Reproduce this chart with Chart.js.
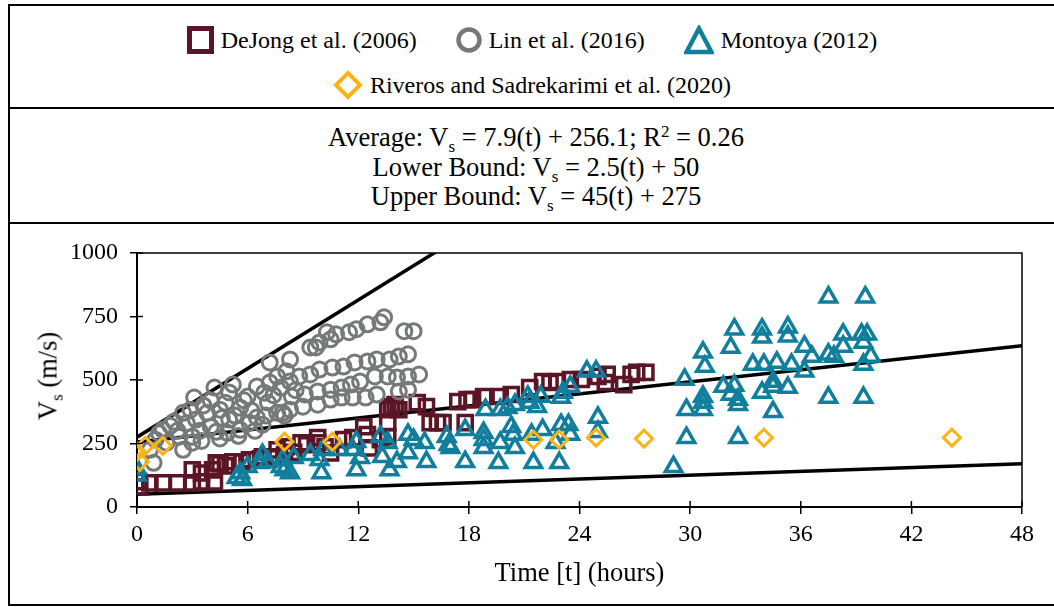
<!DOCTYPE html>
<html>
<head>
<meta charset="utf-8">
<script src="https://cdn.jsdelivr.net/npm/chart.js@4.4.1/dist/chart.umd.min.js"></script>
<style>
  body { margin: 0; background: #fff; font-family: "Liberation Serif", "Times New Roman", serif; color: #000; }
  #page { position: relative; width: 1054px; height: 607px; overflow: hidden; }
  .frame { position: absolute; left: 8px; top: 4px; width: 1060px; height: 602px; border: 2px solid #000; box-sizing: border-box; }
  .sep { position: absolute; left: 8px; width: 1060px; height: 2px; background: #000; }
  .legend-row { position: absolute; left: 10px; width: 1044px; height: 34px; display: flex; justify-content: center; align-items: center; font-size: 24px; }
  .legend-item { display: flex; align-items: center; margin: 0 19.5px; }
  .legend-item svg { margin-right: 7px; }
  .eq { position: absolute; left: 10px; width: 1052px; top: 123px; text-align: center; font-size: 26.5px; line-height: 29.5px; }
  sub { font-size: 17px; vertical-align: -6px; line-height: 0; }
  sup { font-size: 17px; vertical-align: 9px; line-height: 0; }
  #chartBox { position: absolute; left: 10px; top: 224px; width: 1044px; height: 380px; }
  .ytitle { position: absolute; left: 48px; top: 376px; transform: translate(-50%, -50%) rotate(-90deg); font-size: 26.5px; white-space: nowrap; }
</style>
</head>
<body>
<div id="page">
  <div class="frame"></div>
  <div class="sep" style="top:107px"></div>
  <div class="sep" style="top:222px"></div>

  <div class="legend-row" style="top:23px">
    <div class="legend-item">
      <svg width="27" height="28"><rect x="2.5" y="2.5" width="22" height="23" fill="none" stroke="#5b1526" stroke-width="5"/></svg>
      <span>DeJong et al. (2006)</span>
    </div>
    <div class="legend-item">
      <svg width="26" height="26"><circle cx="13" cy="13" r="10.5" fill="none" stroke="#76787a" stroke-width="4.5"/></svg>
      <span>Lin et al. (2016)</span>
    </div>
    <div class="legend-item">
      <svg width="30" height="30"><polygon points="15,3.5 27.5,27 2.5,27" fill="none" stroke="#127e9d" stroke-width="4.5"/></svg>
      <span>Montoya (2012)</span>
    </div>
  </div>
  <div class="legend-row" style="top:68px">
    <div class="legend-item">
      <svg width="30" height="30"><polygon points="15,3 27,15 15,27 3,15" fill="none" stroke="#fbb416" stroke-width="4"/></svg>
      <span>Riveros and Sadrekarimi et al. (2020)</span>
    </div>
  </div>

  <div class="eq">
    Average: V<sub>s</sub> = 7.9(t) + 256.1; R<sup>2</sup> = 0.26<br>
    Lower Bound: V<sub>s</sub> = 2.5(t) + 50<br>
    Upper Bound: V<sub>s</sub> = 45(t) + 275
  </div>

  <div id="chartBox"><canvas id="vsChart"></canvas></div>
  <div class="ytitle">V<sub>s</sub> (m/s)</div>
</div>

<script>
// DeJong et al. (2006)
const dejongT  = [0.1, 0.15, 0.7, 1.4, 2.2, 3.0, 3.5, 4.2, 3.0, 3.5, 4.1, 4.3, 4.5, 4.8, 5.2, 5.7, 6.1, 6.7, 6.8, 7.2, 7.5, 7.6, 8.0, 8.1, 8.5, 8.9, 9.2, 9.8, 9.8, 10.2, 10.5, 11.2, 11.7, 12.3, 12.5, 12.6, 13.2, 13.6, 13.6, 13.6, 13.8, 14.0, 14.2, 15.2, 15.7, 15.9, 16.3, 16.6, 17.4, 17.9, 18.2, 17.8, 18.8, 19.7, 20.3, 21.3, 22.0, 22.4, 22.8, 23.5, 24.1, 25.0, 25.5, 25.4, 26.4, 26.8, 27.1, 27.6];
const dejongVs = [100, 79, 95, 95, 95, 95, 99, 99, 146, 134, 146, 174, 170, 162, 178, 178, 186, 190, 198, 194, 198, 225, 205, 237, 215, 253, 245, 253, 273, 237, 213, 265, 273, 316, 285, 233, 265, 277, 332, 383, 395, 403, 383, 411, 395, 332, 332, 332, 415, 423, 423, 332, 435, 435, 443, 470, 494, 490, 494, 502, 502, 514, 522, 490, 482, 522, 530, 530];

// Lin et al. (2016)
const linT  = [0.7, 0.9, 1.0, 1.2, 1.4, 1.6, 1.8, 2.0, 2.2, 2.3, 2.5, 2.5, 2.7, 2.9, 3.0, 3.0, 3.1, 3.2, 3.4, 3.5, 3.6, 3.8, 4.0, 4.0, 4.2, 4.3, 4.5, 4.5, 4.6, 4.8, 4.9, 5.0, 5.0, 5.2, 5.3, 5.5, 5.6, 5.6, 5.8, 6.0, 6.1, 6.2, 6.4, 6.5, 6.5, 6.8, 6.9, 7.0, 7.1, 7.2, 7.2, 7.4, 7.6, 7.6, 7.8, 7.9, 8.0, 8.1, 8.3, 8.3, 8.3, 8.4, 8.6, 8.8, 9.0, 9.1, 9.4, 9.4, 9.7, 9.8, 9.8, 9.9, 9.9, 10.3, 10.5, 10.6, 10.5, 10.5, 10.8, 11.1, 11.1, 11.2, 11.5, 11.6, 11.7, 11.8, 11.9, 12.1, 12.4, 12.5, 12.5, 12.9, 13.0, 13.0, 13.2, 13.4, 13.6, 13.7, 14.1, 14.2, 14.2, 14.5, 14.7, 14.7, 14.7, 15.0, 15.3];
const linVs = [225, 174, 265, 290, 304, 253, 320, 336, 300, 277, 371, 225, 330, 383, 277, 253, 431, 344, 300, 260, 400, 371, 316, 420, 470, 296, 383, 270, 350, 410, 292, 344, 451, 482, 360, 280, 391, 304, 420, 435, 332, 380, 300, 474, 352, 324, 450, 360, 411, 490, 569, 440, 514, 371, 470, 371, 360, 534, 581, 494, 383, 435, 460, 514, 395, 443, 628, 522, 628, 455, 403, 648, 541, 688, 660, 549, 462, 423, 680, 470, 431, 553, 688, 482, 431, 569, 700, 494, 431, 719, 573, 514, 581, 443, 727, 747, 514, 581, 510, 593, 455, 692, 601, 514, 462, 692, 522];

// Montoya (2012)
const montoyaT  = [0, 0, 5.4, 5.6, 5.7, 6.0, 6.7, 6.8, 7.1, 7.8, 7.9, 8.0, 8.3, 8.5, 9.4, 9.9, 10.0, 10.1, 11.0, 11.7, 11.9, 11.9, 12.1, 13.2, 13.3, 13.6, 13.7, 14.1, 14.7, 14.7, 15.0, 15.6, 15.7, 16.8, 16.9, 17.0, 17.8, 17.8, 18.8, 18.8, 18.8, 18.9, 19.6, 19.7, 19.7, 20.1, 20.3, 20.4, 20.5, 20.5, 21.2, 21.3, 21.4, 21.5, 21.7, 21.9, 22.0, 22.7, 22.9, 23.0, 23.0, 23.1, 23.4, 23.5, 23.5, 24.4, 24.9, 25.0, 25.0, 29.1, 29.7, 29.8, 29.8, 30.7, 30.8, 30.7, 30.7, 30.7, 31.8, 32.2, 32.2, 32.4, 32.4, 32.6, 32.6, 32.6, 33.4, 33.9, 33.9, 33.9, 34.0, 34.5, 34.5, 34.5, 34.7, 35.3, 35.3, 35.3, 35.5, 36.2, 36.2, 36.6, 37.5, 37.5, 37.5, 37.8, 38.3, 38.3, 39.3, 39.4, 39.4, 39.4, 39.5, 39.6, 39.8];
const montoyaVs = [150, 125, 115, 134, 107, 158, 174, 206, 178, 158, 186, 146, 134, 194, 206, 186, 134, 225, 225, 225, 257, 146, 194, 277, 198, 253, 146, 178, 285, 213, 265, 253, 178, 277, 245, 233, 304, 178, 292, 265, 233, 383, 174, 383, 253, 391, 316, 285, 403, 233, 435, 411, 285, 174, 395, 435, 304, 253, 174, 431, 324, 451, 324, 474, 285, 534, 534, 352, 296, 158, 502, 383, 273, 609, 553, 435, 411, 383, 474, 628, 443, 700, 478, 423, 403, 273, 561, 700, 668, 451, 561, 494, 474, 375, 569, 708, 672, 470, 561, 632, 534, 593, 826, 601, 431, 593, 680, 632, 680, 648, 561, 431, 826, 680, 593];

// Riveros and Sadrekarimi et al. (2020)
const riverosT  = [0, 0.15, 0.45, 1.4, 8.0, 10.6, 21.5, 22.9, 24.9, 27.5, 34.0, 44.2];
const riverosVs = [217, 178, 241, 241, 257, 257, 265, 265, 273, 269, 273, 273];

// fitted lines: Vs = slope * t + intercept
const lineNames      = ['Average', 'Lower Bound', 'Upper Bound'];
const lineSlopes     = [7.9, 2.5, 45];
const lineIntercepts = [256.1, 50, 275];
const lineSpanT      = [0, 48];

const xTicks = [0, 6, 12, 18, 24, 30, 36, 42, 48];
const yTicks = [0, 250, 500, 750, 1000];

function toPoints(ts, vs) {
  return ts.map((t, i) => ({ x: t, y: vs[i] }));
}

const plotFrame = {
  id: 'plotFrame',
  afterDraw(chart) {
    const { ctx, chartArea: a, scales } = chart;
    ctx.save();
    ctx.strokeStyle = '#000';
    ctx.lineWidth = 1.5;
    ctx.beginPath();
    ctx.moveTo(a.left, a.top);
    ctx.lineTo(a.right, a.top);
    ctx.lineTo(a.right, a.bottom);
    ctx.stroke();
    // inner half of the crossing ticks
    ctx.beginPath();
    xTicks.forEach(v => {
      const px = scales.x.getPixelForValue(v);
      ctx.moveTo(px, a.bottom);
      ctx.lineTo(px, a.bottom - 6);
    });
    yTicks.forEach(v => {
      const py = scales.y.getPixelForValue(v);
      ctx.moveTo(a.left, py);
      ctx.lineTo(a.left + 6, py);
    });
    ctx.stroke();
    ctx.restore();
  }
};

const scatterSet = (label, ts, vs, color, style, radius, width, order) => ({
  type: 'scatter',
  label: label,
  data: toPoints(ts, vs),
  pointStyle: style,
  pointRadius: radius,
  pointHoverRadius: radius,
  pointBorderWidth: width,
  borderColor: color,
  backgroundColor: 'rgba(0,0,0,0)',
  order: order
});

const lineSets = lineNames.map((name, i) => ({
  type: 'line',
  label: name,
  data: lineSpanT.map(t => ({ x: t, y: lineSlopes[i] * t + lineIntercepts[i] })),
  borderColor: '#000',
  borderWidth: 3.5,
  pointRadius: 0,
  fill: false,
  order: 10
}));

const tickFont = { family: 'Liberation Serif', size: 24 };
const titleFont = { family: 'Liberation Serif', size: 26.5 };

new Chart(document.getElementById('vsChart'), {
  data: {
    datasets: [
      scatterSet('Riveros and Sadrekarimi et al. (2020)', riverosT, riverosVs, '#fbb416', 'rectRot', 8.5, 3, 1),
      scatterSet('Montoya (2012)', montoyaT, montoyaVs, '#127e9d', 'triangle', 9.5, 3.5, 2),
      scatterSet('Lin et al. (2016)', linT, linVs, '#76787a', 'circle', 7.5, 3, 3),
      scatterSet('DeJong et al. (2006)', dejongT, dejongVs, '#5b1526', 'rect', 10, 3.5, 4),
      ...lineSets
    ]
  },
  options: {
    responsive: true,
    maintainAspectRatio: false,
    animation: false,
    layout: { padding: { top: 29, right: 32, left: 0, bottom: 0 } },
    plugins: {
      legend: { display: false },
      tooltip: { enabled: false }
    },
    scales: {
      x: {
        type: 'linear',
        min: 0,
        max: 48,
        afterBuildTicks: axis => { axis.ticks = xTicks.map(v => ({ value: v })); },
        afterFit: axis => { axis.height = 97; },
        grid: { drawOnChartArea: false, color: '#000', lineWidth: 1.5, tickLength: 7 },
        border: { color: '#000', width: 2 },
        ticks: { color: '#000', padding: 6, maxRotation: 0, font: tickFont, callback: v => String(v) },
        title: {
          display: true,
          text: 'Time [t] (hours)',
          color: '#000',
          padding: { top: 0, bottom: 14 },
          font: titleFont
        }
      },
      y: {
        type: 'linear',
        min: 0,
        max: 1000,
        afterBuildTicks: axis => { axis.ticks = yTicks.map(v => ({ value: v })); },
        afterFit: axis => { axis.width = 127; },
        grid: { drawOnChartArea: false, color: '#000', lineWidth: 1.5, tickLength: 7 },
        border: { color: '#000', width: 2 },
        ticks: { color: '#000', padding: 12, font: tickFont, callback: v => String(v) }
      }
    }
  },
  plugins: [plotFrame]
});
</script>
</body>
</html>
